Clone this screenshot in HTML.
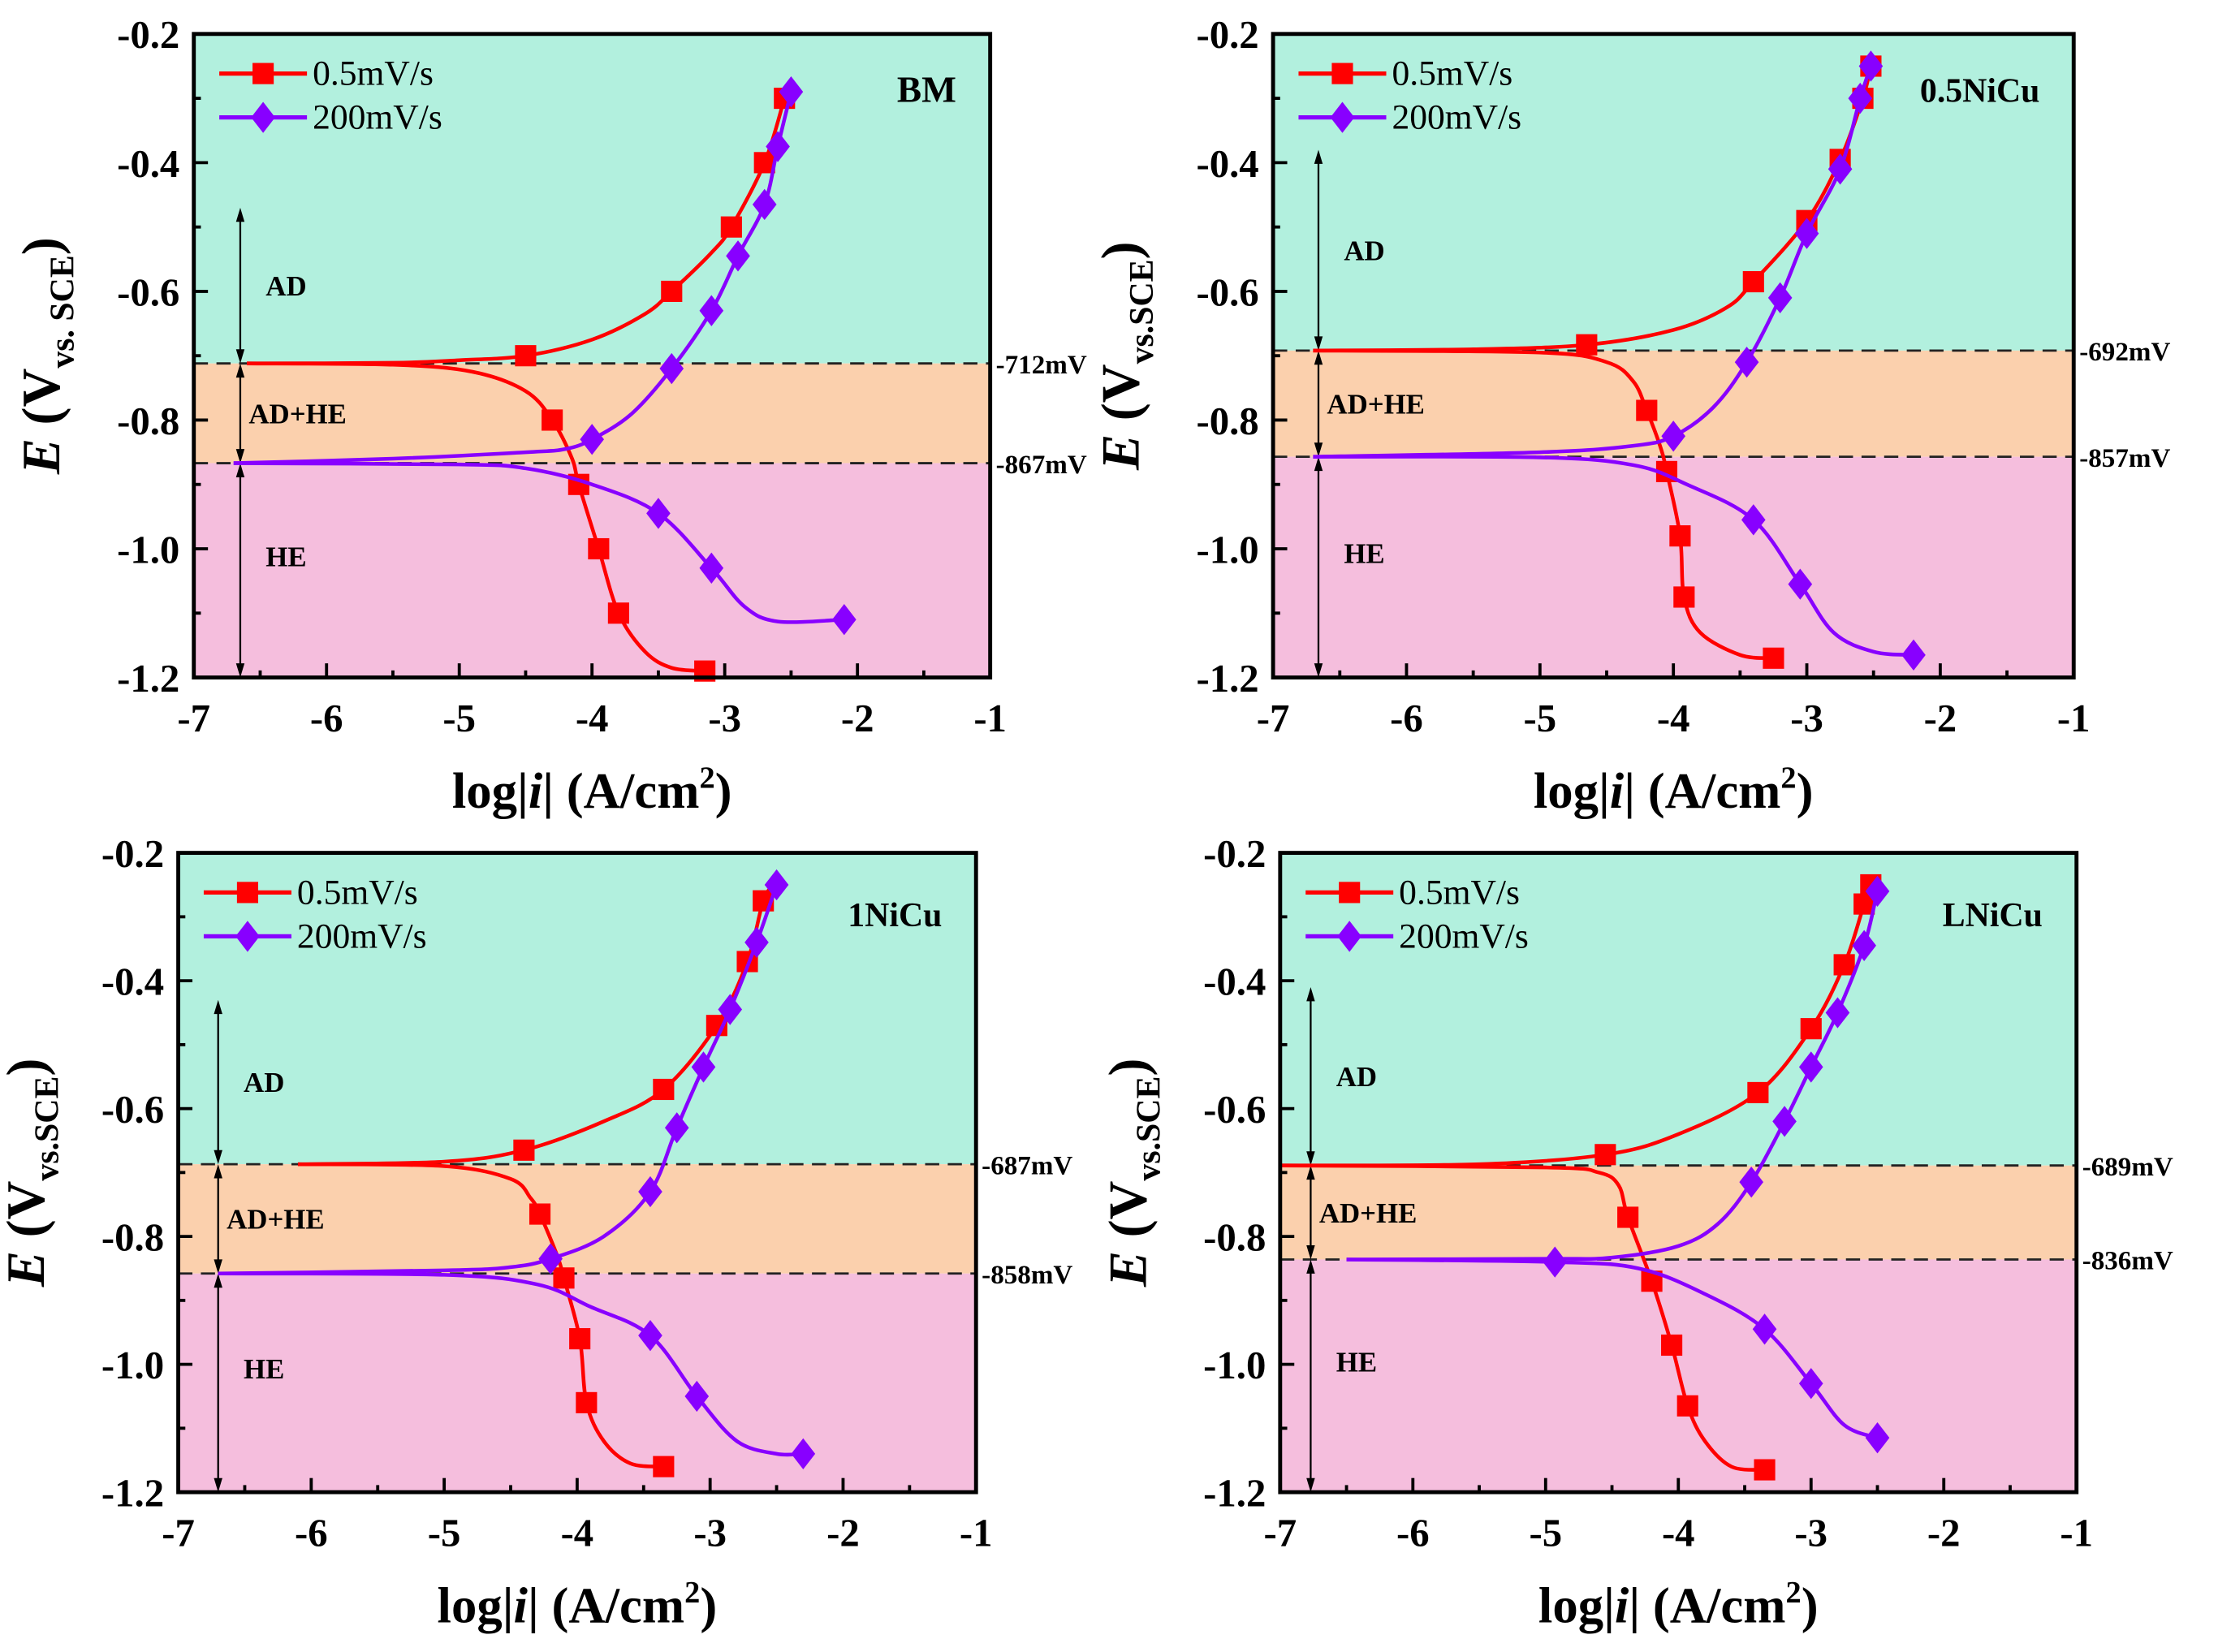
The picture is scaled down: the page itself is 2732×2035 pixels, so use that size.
<!DOCTYPE html>
<html><head><meta charset="utf-8">
<style>
html,body{margin:0;padding:0;background:#fff;}
svg{display:block;font-family:"Liberation Serif",serif;}
text{font-family:"Liberation Serif",serif;}
</style></head>
<body>
<svg id="fig" width="2732" height="2035" viewBox="0 0 1568 1168" font-family="Liberation Serif, serif" xmlns="http://www.w3.org/2000/svg"></svg>
<script>
// ---------- DATA ----------
const panelTitles = ["BM", "0.5NiCu", "1NiCu", "LNiCu"];
const ecorrRed = [-0.712, -0.692, -0.687, -0.689];
const ecorrPurple = [-0.867, -0.857, -0.858, -0.836];
const ecorrLabels = ["-712mV|-867mV", "-692mV|-857mV", "-687mV|-858mV", "-689mV|-836mV"];
const xTicks = [-7, -6, -5, -4, -3, -2, -1];
const yTicks = [-0.2, -0.4, -0.6, -0.8, -1.0, -1.2];
const yTickLabels = ["-0.2", "-0.4", "-0.6", "-0.8", "-1.0", "-1.2"];
const seriesNames = ["0.5mV/s", "200mV/s"];
const arrowX = [-6.65, -6.66, -6.7, -6.77];
const arrowTop = [-0.47, -0.38, -0.43, -0.41];
// points: [logi, E, isMarker]
const p1RedAnodic = [[-6.6,-0.712,0],[-5.5,-0.711,0],[-5,-0.707,0],[-4.5,-0.70,1],[-4,-0.675,0],[-3.6,-0.635,0],[-3.4,-0.60,1],[-3.1,-0.54,0],[-2.95,-0.50,1],[-2.7,-0.40,1],[-2.55,-0.30,1]];
const p1RedCathodic = [[-6.6,-0.712,0],[-5.5,-0.714,0],[-4.9,-0.725,0],[-4.5,-0.755,0],[-4.3,-0.80,1],[-4.15,-0.86,0],[-4.1,-0.90,1],[-3.95,-1.0,1],[-3.8,-1.1,1],[-3.6,-1.16,0],[-3.4,-1.185,0],[-3.15,-1.19,1]];
const p1PurAnodic = [[-6.7,-0.867,0],[-5.5,-0.86,0],[-4.5,-0.85,0],[-4.2,-0.845,0],[-4.0,-0.83,1],[-3.7,-0.79,0],[-3.4,-0.72,1],[-3.1,-0.63,1],[-2.9,-0.545,1],[-2.7,-0.465,1],[-2.6,-0.375,1],[-2.5,-0.29,1]];
const p1PurCathodic = [[-6.7,-0.867,0],[-5,-0.869,0],[-4.5,-0.875,0],[-4,-0.9,0],[-3.5,-0.945,1],[-3.1,-1.03,1],[-2.85,-1.09,0],[-2.6,-1.113,0],[-2.1,-1.11,1]];
const p2RedAnodic = [[-6.7,-0.692,0],[-5.5,-0.69,0],[-4.65,-0.683,1],[-4,-0.66,0],[-3.6,-0.625,0],[-3.4,-0.585,1],[-3,-0.49,1],[-2.75,-0.395,1],[-2.58,-0.30,1],[-2.52,-0.25,1]];
const p2RedCathodic = [[-6.7,-0.692,0],[-5,-0.695,0],[-4.5,-0.71,0],[-4.3,-0.74,0],[-4.2,-0.785,1],[-4.1,-0.84,0],[-4.05,-0.88,1],[-3.95,-0.98,1],[-3.92,-1.075,1],[-3.8,-1.13,0],[-3.5,-1.165,0],[-3.25,-1.17,1]];
const p2PurAnodic = [[-6.7,-0.857,0],[-5,-0.85,0],[-4.3,-0.84,0],[-4.0,-0.825,1],[-3.7,-0.78,0],[-3.45,-0.71,1],[-3.2,-0.61,1],[-3.0,-0.51,1],[-2.75,-0.41,1],[-2.6,-0.30,1],[-2.52,-0.25,1]];
const p2PurCathodic = [[-6.7,-0.857,0],[-5,-0.858,0],[-4.3,-0.87,0],[-3.9,-0.9,0],[-3.4,-0.955,1],[-3.05,-1.055,1],[-2.8,-1.13,0],[-2.5,-1.16,0],[-2.2,-1.165,1]];
const p3RedAnodic = [[-6.1,-0.687,0],[-5,-0.683,0],[-4.4,-0.665,1],[-3.8,-0.62,0],[-3.35,-0.57,1],[-2.95,-0.47,1],[-2.72,-0.37,1],[-2.6,-0.275,1],[-2.52,-0.25,0]];
const p3RedCathodic = [[-6.1,-0.687,0],[-5,-0.69,0],[-4.5,-0.71,0],[-4.35,-0.74,0],[-4.28,-0.765,1],[-4.15,-0.83,0],[-4.1,-0.865,1],[-3.98,-0.96,1],[-3.93,-1.06,1],[-3.8,-1.12,0],[-3.6,-1.155,0],[-3.35,-1.16,1]];
const p3PurAnodic = [[-6.7,-0.858,0],[-5,-0.853,0],[-4.5,-0.848,0],[-4.2,-0.835,1],[-3.8,-0.8,0],[-3.45,-0.73,1],[-3.25,-0.63,1],[-3.05,-0.535,1],[-2.85,-0.445,1],[-2.65,-0.34,1],[-2.5,-0.25,1]];
const p3PurCathodic = [[-6.7,-0.858,0],[-5,-0.86,0],[-4.3,-0.875,0],[-3.9,-0.91,0],[-3.45,-0.955,1],[-3.1,-1.05,1],[-2.8,-1.12,0],[-2.5,-1.14,0],[-2.3,-1.14,1]];
const p4RedAnodic = [[-7,-0.689,0],[-5.5,-0.687,0],[-4.55,-0.672,1],[-4,-0.64,0],[-3.4,-0.575,1],[-3,-0.475,1],[-2.75,-0.375,1],[-2.6,-0.28,1],[-2.55,-0.25,1]];
const p4RedCathodic = [[-7,-0.689,0],[-5,-0.692,0],[-4.6,-0.70,0],[-4.45,-0.72,0],[-4.38,-0.77,1],[-4.2,-0.87,1],[-4.05,-0.97,1],[-3.93,-1.065,1],[-3.8,-1.12,0],[-3.6,-1.16,0],[-3.35,-1.165,1]];
const p4PurAnodic = [[-6.5,-0.836,0],[-5,-0.835,0],[-4.5,-0.833,0],[-4,-0.815,0],[-3.7,-0.78,0],[-3.45,-0.715,1],[-3.2,-0.62,1],[-3.0,-0.535,1],[-2.8,-0.45,1],[-2.6,-0.345,1],[-2.5,-0.26,1],[-2.48,-0.25,0]];
const p4PurCathodic = [[-6.5,-0.836,0],[-4.93,-0.84,1],[-4.3,-0.85,0],[-3.8,-0.89,0],[-3.35,-0.945,1],[-3.0,-1.03,1],[-2.75,-1.095,0],[-2.5,-1.115,1]];
const panelData = [
  [p1RedAnodic, p1RedCathodic, p1PurAnodic, p1PurCathodic],
  [p2RedAnodic, p2RedCathodic, p2PurAnodic, p2PurCathodic],
  [p3RedAnodic, p3RedCathodic, p3PurAnodic, p3PurCathodic],
  [p4RedAnodic, p4RedCathodic, p4PurAnodic, p4PurCathodic]
];
// ---------- LAYOUT ----------
const boxes = [
  {l:137,r:700,t:24,b:479},
  {l:900,r:1466,t:24,b:479},
  {l:126,r:690,t:603,b:1055},
  {l:905,r:1468,t:603,b:1055}
];
const FONT = "Liberation Serif, serif";
const NS = "http://www.w3.org/2000/svg";
const svg = document.getElementById("fig");
function mk(tag, attrs, parent) {
  const e = document.createElementNS(NS, tag);
  for (const k in attrs) e.setAttribute(k, attrs[k]);
  if (tag === "text") e.setAttribute("font-family", FONT);
  (parent || svg).appendChild(e);
  return e;
}
function smooth(pts) {
  let d = "M" + pts[0][0] + "," + pts[0][1];
  for (let i = 0; i < pts.length - 1; i++) {
    const p0 = pts[Math.max(0, i - 1)], p1 = pts[i], p2 = pts[i + 1], p3 = pts[Math.min(pts.length - 1, i + 2)];
    const c1x = p1[0] + (p2[0] - p0[0]) / 6, c1y = p1[1] + (p2[1] - p0[1]) / 6;
    const c2x = p2[0] - (p3[0] - p1[0]) / 6, c2y = p2[1] - (p3[1] - p1[1]) / 6;
    d += " C" + c1x + "," + c1y + " " + c2x + "," + c2y + " " + p2[0] + "," + p2[1];
  }
  return d;
}
const RED = "#ff0000", PUR = "#8800ff";
function square(g, x, y, c) {
  const s = mk("rect", {x:x-7.5, y:y-7.5, width:15, height:15, fill:c}, g);
  
  
}
function diamond(g, x, y, c) {
  const s = mk("polygon", {points:`${x},${y-11} ${x+8.5},${y} ${x},${y+11} ${x-8.5},${y}`, fill:c}, g);
  
  
}
function arrowV(g, x, y1, y2) {
  const l = mk("line", {x1:x, y1:y1+7, x2:x, y2:y2-7, stroke:"#000", "stroke-width":1.3}, g);
  
  
  mk("polygon", {points:`${x},${y1} ${x-3},${y1+10} ${x+3},${y1+10}`, fill:"#000"}, g);
  mk("polygon", {points:`${x},${y2} ${x-3},${y2-10} ${x+3},${y2-10}`, fill:"#000"}, g);
}
boxes.forEach((B, pi) => {
  const g = mk("g", {});
  
  
  const X = v => B.l + (v + 7) / 6 * (B.r - B.l);
  const Y = v => B.t + (-0.2 - v) / 1.0 * (B.b - B.t);
  const yr = Y(ecorrRed[pi]), yp = Y(ecorrPurple[pi]);
  const r1 = mk("rect", {x:B.l, y:B.t, width:B.r-B.l, height:yr-B.t, fill:"#b2f0de"}, g);
  
  
  const r2 = mk("rect", {x:B.l, y:yr, width:B.r-B.l, height:yp-yr, fill:"#fbd0ad"}, g);
  
  
  const r3 = mk("rect", {x:B.l, y:yp, width:B.r-B.l, height:B.b-yp, fill:"#f5bedd"}, g);
  
  
  [yr, yp].forEach((yy, k) => {
    const dl = mk("line", {x1:B.l, y1:yy, x2:B.r, y2:yy, stroke:"#222", "stroke-width":1.6, "stroke-dasharray":"10,6"}, g);
    
    
    const t = mk("text", {x:B.r+4, y:yy+7, "font-size":19, "font-weight":"bold"}, g);
    t.textContent = ecorrLabels[pi].split("|")[k];
    
    
  });
  const ax = X(arrowX[pi]);
  arrowV(g, ax, Y(arrowTop[pi]), yr);
  arrowV(g, ax, yr, yp);
  arrowV(g, ax, yp, B.b);
  [["AD", (Y(arrowTop[pi]) + yr) / 2], ["AD+HE", (yr + yp) / 2], ["HE", (yp + B.b) / 2 - 10]].forEach(([s, yy]) => {
    const t = mk("text", {x:ax+(s==="AD+HE"?6:18), y:yy+7, "font-size":20, "font-weight":"bold"}, g);
    t.textContent = s;
    
    
  });
  panelData[pi].forEach((pts, si) => {
    const col = si < 2 ? RED : PUR;
    const px = pts.map(p => [X(p[0]), Y(p[1]), p[2]]);
    const path = mk("path", {d:smooth(px), fill:"none", stroke:col, "stroke-width":2.6}, g);
    
    
    px.forEach(p => { if (p[2]) (si < 2 ? square : diamond)(g, p[0], p[1], col); });
  });
  const fr = mk("rect", {x:B.l, y:B.t, width:B.r-B.l, height:B.b-B.t, fill:"none", stroke:"#000", "stroke-width":2.8}, g);
  
  
  xTicks.forEach((v, i) => {
    const x = X(v);
    mk("line", {x1:x, y1:B.b, x2:x, y2:B.b-10, stroke:"#000", "stroke-width":2.2}, g);
    if (i < xTicks.length - 1) { const xm = X(v + 0.5); mk("line", {x1:xm, y1:B.b, x2:xm, y2:B.b-5, stroke:"#000", "stroke-width":2.2}, g); }
    const t = mk("text", {x:x, y:B.b+38, "font-size":28, "font-weight":"bold", "text-anchor":"middle"}, g);
    t.textContent = String(v);
    
    
  });
  yTicks.forEach((v, i) => {
    const y = Y(v);
    mk("line", {x1:B.l, y1:y, x2:B.l+10, y2:y, stroke:"#000", "stroke-width":2.2}, g);
    if (i < yTicks.length - 1) { const ym = Y(v - 0.1); mk("line", {x1:B.l, y1:ym, x2:B.l+5, y2:ym, stroke:"#000", "stroke-width":2.2}, g); }
    const t = mk("text", {x:B.l-10, y:y+10, "font-size":28, "font-weight":"bold", "text-anchor":"end"}, g);
    t.textContent = yTickLabels[i];
    
    
  });
  const xt = mk("text", {x:(B.l+B.r)/2, y:B.b+92, "font-size":36, "font-weight":"bold", "text-anchor":"middle"}, g);
  xt.innerHTML = 'log|<tspan font-style="italic">i</tspan>| (A/cm<tspan dy="-14" font-size="22">2</tspan><tspan dy="14">)</tspan>';
  
  
  const cx = B.l - 95, cy = (B.t + B.b) / 2;
  const yt = mk("text", {x:cx, y:cy, "font-size":38, "font-weight":"bold", "text-anchor":"middle", transform:`rotate(-90 ${cx} ${cy})`}, g);
  yt.innerHTML = '<tspan font-style="italic">E</tspan> (V<tspan dy="10" font-size="24">' + (pi === 0 ? 'vs. SCE' : 'vs.SCE') + '</tspan><tspan dy="-10">)</tspan>';
  
  
  const tt = mk("text", {x:B.r-24, y:B.t+(pi<2?48:52), "font-size":pi===0?26:24, "font-weight":"bold", "text-anchor":"end"}, g);
  tt.textContent = panelTitles[pi];
  
  
  const lg = mk("g", {}, g);
  
  
  seriesNames.forEach((s, k) => {
    const y = B.t + 28 + k * 31;
    const col = k ? PUR : RED;
    mk("line", {x1:B.l+18, y1:y, x2:B.l+80, y2:y, stroke:col, "stroke-width":3}, lg);
    (k ? diamond : square)(lg, B.l+49, y, col);
    const t = mk("text", {x:B.l+84, y:y+8, "font-size":25}, lg);
    t.textContent = s;
    
    
  });
});
</script>
</body></html>
